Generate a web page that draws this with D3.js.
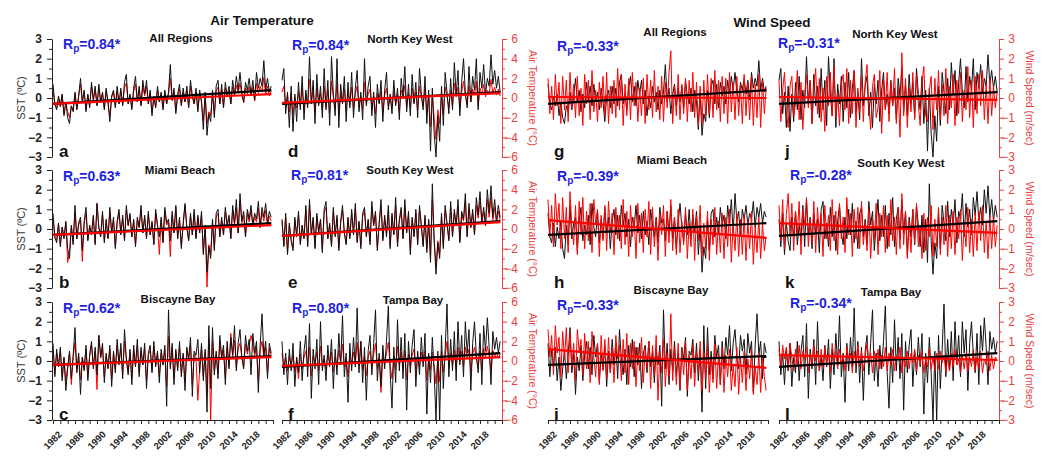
<!DOCTYPE html>
<html>
<head>
<meta charset="utf-8">
<script src="https://cdn.jsdelivr.net/npm/d3@7"></script>
<style>
body { margin: 0; background: #fff; }
svg { display: block; }
</style>
</head>
<body>
<svg id="chart" width="1045" height="458"></svg>
<script>
// monthly anomalies read off the figure, sampled 3 per year from 1982 to 2021
// SST anomalies (°C), shared by the air temperature and wind speed panels
const sstAll = [
 0.7,-0.3,-0.6, 0.1,-0.4,0.2, -0.9,-0.2,-1.0, -1.3,-0.4,-0.7,
 0.3,-0.6,0.1, 1.0,-0.2,0.4, -0.7,0.2,-0.5, 0.8,-0.1,0.6,
 -0.4,0.7,-0.2, 0.3,-0.6,0.5, -0.2,-1.2,0.1, 0.4,-0.5,0.6,
 -0.3,0.5,-0.4, 0.8,1.2,-0.3, 0.2,-0.6,0.5, 1.1,-0.2,0.6,
 -0.4,0.9,0.2, 0.9,-0.3,0.4, -0.9,0.1,-0.5, 0.6,-0.2,0.3,
 -0.6,0.4,-0.3, 0.3,1.7,-0.1, 0.5,-0.8,0.2, 0.7,-0.4,0.5,
 -0.2,0.6,-0.5, 0.9,0.1,-0.3, 0.5,-0.7,0.4, -0.2,-1.6,0.3,
 -1.9,-0.8,-1.2, 0.4,-1.0,0.6, 0.9,-0.3,0.7, -0.5,0.8,0.1,
 0.6,-0.3,0.9, 0.2,1.1,0.4, 1.3,0.3,-0.2, 0.8,0.4,1.0,
 0.2,0.9,-0.1, 1.3,0.5,1.0, 0.6,1.9,0.4, 1.0,0.3,0.6
];
const sstMiami = [
 0.8,-0.4,-0.7, 0.3,-0.9,0.1, -0.5,0.4,-1.0, -1.5,0.2,-0.8,
 1.2,-0.5,0.3, 0.6,-1.1,0.4, 1.1,-0.6,0.2, -0.3,0.7,-0.8,
 1.3,0.1,-0.4, 0.9,-0.7,0.5, -0.5,1.1,-0.2, 0.6,-1.0,0.4,
 1.0,-0.3,0.7, -0.6,1.2,0.2, 0.8,-0.4,0.5, -0.9,0.6,0.1,
 1.2,-0.2,0.7, -0.5,0.9,-0.3, 0.4,-0.8,1.0, 0.2,-0.4,0.6,
 -0.7,1.1,0.3, 0.5,-0.6,0.9, -0.2,1.2,-0.5, 0.6,-1.0,0.3,
 1.3,0.1,-0.6, 0.8,-0.3,1.0, -0.5,0.7,-0.2, 0.9,-1.3,0.2,
 -2.2,-0.9,-1.5, 0.5,-1.1,0.8, 1.0,-0.4,0.6, -0.3,1.1,0.2,
 0.7,-0.5,1.2, 0.3,1.5,-0.2, 1.8,0.4,0.9, -0.4,1.0,0.5,
 1.2,0.2,0.8, 0.5,1.4,0.1, 1.1,0.6,1.3, 0.3,0.9,0.6
];
const sstBiscayne = [
 0.9,-0.8,0.6, -0.3,0.7,-1.0, 0.2,-1.5,-0.4, 0.5,-0.9,0.3,
 1.7,-0.6,0.4, -1.7,0.2,-0.5, 0.8,-1.0,0.3, 1.0,-0.4,0.7,
 -0.7,1.3,0.2, 0.9,-1.1,0.4, -0.4,0.8,-1.3, 0.5,-0.6,1.1,
 -0.2,0.9,-0.9, 1.6,0.1,-0.7, 0.6,-1.2,0.8, -0.3,1.1,-0.8,
 0.7,-0.2,0.9, -1.4,0.4,0.8, -0.6,1.0,-0.3, 0.5,-1.1,0.6,
 -0.2,0.8,-2.3, 2.6,-0.4,0.9, -1.2,0.6,-0.5, 1.0,-0.8,0.4,
 -1.5,0.7,0.1, 1.2,-1.8,0.5, 0.3,1.1,-0.6, 0.9,-1.0,0.6,
 -2.6,1.8,-1.4, 1.7,-0.7,0.5, -0.9,1.3,0.2, 0.8,-1.2,1.0,
 -0.4,1.2,0.3, 1.8,-0.5,0.9, 1.6,0.2,-0.4, 1.3,0.5,1.1,
 -0.7,1.4,0.4, 1.0,-1.6,0.8, 2.4,0.3,1.0, -0.9,0.9,0.4
];
const sstNorthKW = [
 0.9,1.5,-0.8, 0.3,-1.5,0.6, -1.7,0.2,-1.2, 0.8,-0.6,1.1,
 -1.1,0.4,-0.5, 2.1,-0.3,0.9, -1.3,1.2,-0.4, 0.6,-1.0,1.5,
 -0.6,0.9,-1.4, 2.1,0.2,-0.9, 2.0,-1.5,0.7, -0.3,1.1,-1.2,
 0.8,-0.5,1.3, -1.0,0.5,1.4, -0.7,0.3,-1.1, 2.0,-0.4,0.6,
 1.1,-0.9,0.3, -1.5,0.7,-0.3, 0.9,-1.2,0.4, 1.3,-0.6,0.2,
 -0.8,0.9,-0.4, 0.5,-1.1,1.0, 0.1,1.6,-0.7, 0.7,-0.9,1.2,
 -0.3,0.8,-1.0, 1.5,0.2,-0.6, 1.1,-1.3,0.4, -2.7,0.5,-1.8,
 -3.0,-0.9,-2.2, 0.6,-1.4,1.3, 0.3,-0.8,1.0, -0.6,1.8,0.2,
 1.4,-0.9,0.8, 2.0,0.3,-0.5, 1.6,-0.2,1.1, 0.4,2.0,-0.6,
 1.3,0.5,1.7, 0.2,1.0,0.6, 2.2,0.7,1.4, 0.5,1.1,0.3
];
const sstSouthKW = [
 0.5,-0.9,0.8, -1.3,0.3,-0.6, -1.1,0.6,-0.4, 0.9,-0.8,0.2,
 -0.5,1.2,-0.9, 1.5,-0.3,0.6, -1.0,0.8,-0.2, 0.5,-1.2,1.0,
 1.4,-0.5,0.3, -0.9,1.1,-0.4, 0.7,-1.1,0.4, 1.2,-0.2,-0.8,
 0.6,-0.5,1.0, -0.3,1.3,-0.7, 0.4,-1.0,0.8, 1.1,-0.4,0.5,
 -0.8,1.4,0.2, 0.9,-1.1,0.3, 1.5,-0.6,0.7, -0.4,1.2,-1.0,
 0.8,-0.3,1.6, -0.9,0.5,1.1, -0.5,1.5,-0.2, 0.9,-1.3,0.6,
 -0.4,1.0,-0.8, 1.2,0.2,-0.9, 0.7,-1.2,0.5, -1.7,2.3,-0.6,
 -2.3,-0.7,-1.5, 0.8,-1.0,1.2, 0.3,-0.6,1.4, -0.4,1.0,0.2,
 1.5,-0.7,0.9, 0.5,1.8,-0.4, 1.3,0.1,1.0, -0.3,1.6,0.7,
 1.9,0.4,1.1, 0.2,2.0,0.8, 2.2,0.6,1.5, 0.4,1.2,0.6
];
const sstTampa = [
 1.0,-0.7,0.4, -1.2,0.6,-0.5, 0.9,-1.3,0.2, -0.6,1.0,-1.0,
 0.5,1.3,-0.8, 1.9,-1.9,0.6, -0.4,1.1,-1.2, 2.0,-0.5,0.3,
 -1.0,0.8,-0.3, 1.1,-1.4,0.6, -0.7,1.4,-0.2, 2.3,-0.8,0.4,
 -2.1,0.9,-0.5, 1.2,-0.3,2.7, -0.6,1.0,-1.1, 0.7,-2.0,0.5,
 1.3,-0.7,0.9, 2.6,-1.0,0.4, -1.3,0.8,-0.4, 1.0,2.8,-0.6,
 -2.4,0.7,-1.1, 2.1,-0.5,1.2, -0.9,1.4,-2.5, 1.0,-0.6,0.8,
 1.6,-1.3,0.5, -0.7,1.2,-0.3, 1.4,-2.7,0.4, -1.1,1.2,-0.6,
 -3.0,0.5,-3.0, 1.3,-1.4,0.6, 2.9,-0.8,1.1, -0.5,1.5,-1.0,
 2.0,-0.2,1.3, -0.8,2.0,0.4, 1.6,-1.5,0.9, 2.0,0.3,-0.6,
 1.4,-1.2,1.8, 0.5,2.2,0.7, -1.2,1.5,0.6, 1.2,0.4,1.0
];

// air temperature anomalies (°C)
const airAll = [
 0.8,-0.7,-1.0, 0.0,-0.9,0.3, -1.6,-0.5,-1.4, -2.0,-0.8,-1.2,
 0.4,-1.1,0.2, 1.4,-0.4,0.6, -1.2,0.3,-0.8, 1.2,-0.3,0.8,
 -0.7,1.0,-0.5, 0.5,-1.0,0.7, -0.5,-1.9,0.1, 0.6,-0.9,0.8,
 -0.6,0.7,-0.7, 1.1,1.5,-0.6, 0.2,-1.0,0.7, 1.4,-0.4,0.8,
 -0.7,1.2,0.2, 1.2,-0.6,0.5, -1.5,0.1,-0.9, 0.8,-0.4,0.4,
 -1.0,0.5,-0.6, 0.4,2.0,-0.3, 0.6,-1.3,0.2, 0.9,-0.7,0.6,
 -0.4,0.8,-0.9, 1.2,0.1,-0.6, 0.6,-1.2,0.5, -0.4,-2.3,0.3,
 -2.6,-1.4,-1.8, 0.5,-1.6,0.7, 1.1,-0.6,0.9, -0.9,1.0,0.1,
 0.7,-0.6,1.1, 0.2,1.3,0.5, 1.5,0.3,-0.5, 1.0,0.4,1.2,
 0.2,1.1,-0.3, 1.5,0.5,1.2, 0.6,2.1,0.3, 1.2,0.2,0.7
];
const airMiami = [
 1.0,-0.9,-1.2, 0.5,-1.6,0.2, -0.8,0.6,-3.4, -2.4,0.3,-1.4,
 1.8,-1.0,0.4, 0.9,-3.3,0.5, 1.6,-1.1,0.2, -0.6,1.2,-1.4,
 2.6,0.1,-0.8, 1.5,-1.2,0.8, -0.9,1.8,-0.4, 0.9,-1.8,0.6,
 1.6,-0.5,1.1, -1.1,1.9,0.3, 1.3,-0.8,0.8, -1.6,0.9,0.1,
 2.0,-0.4,1.1, -0.9,1.5,-0.6, 0.6,-1.5,1.6, 0.3,-2.6,0.9,
 -1.3,1.8,0.4, 0.7,-2.8,1.4, -0.4,2.2,-0.9, 0.9,-1.7,0.4,
 2.4,0.1,-1.1, 1.3,-0.6,1.6, -0.9,1.1,-0.4, 1.4,-2.3,0.3,
 -5.9,-1.6,-2.6, 0.7,-1.9,1.2, 1.6,-0.7,0.9, -0.6,1.8,0.3,
 1.1,-0.9,1.9, 0.4,2.2,-0.4, 2.8,0.6,1.4, -0.7,1.6,0.7,
 1.9,0.3,1.2, 0.7,2.1,0.1, 1.7,0.8,1.9, 0.4,1.3,0.8
];
const airBiscayne = [
 1.2,-1.3,0.8, -0.5,1.0,-1.6, 0.3,-2.0,-0.6, 0.8,-2.4,0.4,
 1.9,-0.9,0.5, -1.9,0.4,-0.8, 1.2,-1.6,0.5, 1.6,-0.5,1.0,
 -2.9,2.6,0.3, 1.4,-1.6,0.5, -0.7,1.2,-1.9, 0.8,-0.9,1.6,
 -0.3,1.3,-1.4, 2.0,0.2,-1.1, 0.9,-1.7,1.1, -0.5,1.6,-1.2,
 1.0,-0.4,1.3, -2.0,0.6,1.1, -0.9,1.5,-0.4, 0.7,-1.6,0.8,
 -0.4,1.2,-2.6, 2.5,-0.6,1.4, -1.8,0.9,-0.7, 1.4,-1.2,0.6,
 -2.0,1.1,0.1, 1.6,-2.4,0.7, 0.4,-4.0,-0.9, 1.3,-1.5,0.9,
 -3.1,2.2,-6.0, 2.0,-1.0,0.7, -1.3,1.8,0.3, 1.1,-1.7,1.4,
 -0.5,2.8,0.4, 2.1,-0.7,1.3, 1.8,0.3,-0.6, 1.7,0.7,1.5,
 2.6,1.8,0.5, 1.4,-2.0,1.1, 2.0,0.4,1.4, -1.2,1.3,0.6
];
const airNorthKW = [
 0.6,1.2,-0.9, 0.2,-1.4,0.5, -1.8,0.1,-1.0, 0.7,-0.8,1.0,
 -1.2,0.3,-0.7, 1.9,-0.5,0.8, -1.4,1.0,-0.6, 0.5,-1.2,1.2,
 -0.9,0.8,-1.5, 1.7,0.1,-1.1, 1.6,-1.6,0.5, -0.5,0.9,-1.3,
 0.6,-0.7,1.1, -1.1,0.4,1.2, -0.9,0.2,-1.2, 1.6,-0.6,0.4,
 0.9,-1.0,0.2, -1.6,0.5,-0.5, 0.7,-1.4,0.3, 1.0,-0.8,0.1,
 -1.0,0.7,-0.6, 0.4,-1.3,0.8, 0.0,1.3,-0.9, 0.5,-1.1,1.0,
 -0.5,0.6,-1.2, 1.2,0.1,-0.8, 0.9,-1.5,0.3, -2.9,0.3,-2.0,
 -4.2,-1.2,-2.6, 0.4,-1.7,1.1, 0.2,-1.0,0.8, -0.8,1.5,0.1,
 1.1,-1.1,0.6, 1.7,0.2,-0.7, 1.3,-0.4,0.9, 0.3,1.7,-0.8,
 1.0,0.3,1.4, 0.1,0.8,0.4, 1.9,0.5,1.1, 0.3,0.9,0.2
];
const airSouthKW = [
 0.8,-1.6,1.2, -2.4,0.4,-1.0, -1.9,0.9,-0.6, 1.5,-1.4,0.3,
 -0.9,2.0,-1.6, 2.4,-0.5,1.0, -1.8,1.3,-0.3, 0.9,-2.1,1.7,
 2.2,-0.9,0.4, -1.6,1.8,-0.6, 1.1,-1.9,0.6, 1.9,-0.4,-1.4,
 1.0,-0.8,1.6, -0.5,2.1,-1.2, 0.6,-1.7,1.3, 1.8,-0.7,0.8,
 -1.3,2.2,0.3, 1.5,-1.9,0.5, 2.3,-1.0,1.1, -0.6,1.9,-1.7,
 1.3,-0.5,2.4, -1.5,0.8,1.7, -0.9,2.3,-0.3, 1.4,-2.2,1.0,
 -0.7,1.6,-1.4, 1.9,0.3,-1.6, 1.1,-2.0,0.8, -2.8,3.0,-1.0,
 -3.8,-1.2,-2.5, 1.3,-1.7,1.9, 0.5,-1.0,2.2, -0.7,1.6,0.3,
 2.3,-1.2,1.4, 0.8,2.7,-0.7, 2.0,0.1,1.6, -0.5,2.4,1.1,
 2.8,0.6,1.7, 0.3,3.0,1.2, 3.2,0.9,2.2, 0.6,1.8,0.9
];
const airTampa = [
 0.8,-0.6,0.3, -1.0,0.5,-0.4, 0.6,-1.1,0.1, -1.8,0.7,-0.8,
 0.4,1.0,-0.6, 1.4,-1.5,0.5, -0.3,0.9,-1.0, 1.5,-0.4,0.2,
 -0.8,0.6,-0.2, 0.9,-1.1,0.4, -0.6,1.1,-0.1, 1.7,-0.6,0.3,
 -1.6,0.7,-0.4, 0.9,-0.2,1.9, -0.5,2.0,-0.9, 0.5,-1.5,0.4,
 1.0,-0.5,0.7, 1.8,-0.8,0.3, -3.2,0.6,-0.3, 0.8,1.9,-0.5,
 -1.8,0.5,-0.9, 1.5,-0.4,0.9, -0.7,1.0,-1.9, 0.7,-0.5,0.6,
 1.2,-1.0,0.4, -0.6,0.9,-0.2, 1.0,-2.0,0.3, -0.9,0.9,-0.5,
 -2.3,0.4,-2.1, 1.0,-1.1,0.5, 2.0,-0.6,0.8, -0.4,1.1,-0.8,
 1.4,-0.1,1.0, -0.6,1.4,0.3, 1.2,-1.1,0.7, 1.4,0.2,-0.5,
 1.0,-0.9,1.3, 0.4,1.5,0.5, -0.9,1.1,0.4, 0.9,0.3,0.7
];

// wind speed anomalies (m/sec)
const windAll = [
 1.0,-0.8,0.6, -1.1,1.2,-0.4, 0.8,-1.3,1.1, -0.6,0.9,-1.2,
 1.3,-0.5,0.7, -1.0,1.1,-0.9, 0.5,-1.4,1.2, -0.3,0.9,-1.1,
 1.4,-0.7,0.4, -1.2,0.8,-0.5, 1.1,-0.9,1.3, -1.3,0.6,-0.8,
 0.9,-1.0,1.5, -0.6,1.2,-1.4, 0.7,-0.9,1.0, -1.1,1.3,-0.4,
 0.8,-1.2,0.5, -0.9,1.0,-1.3, 1.2,-0.6,0.9, -1.0,1.4,-0.7,
 0.6,-1.1,1.1, -1.2,0.8,-0.5, 1.3,2.4,-1.3, 0.6,-0.9,1.2,
 -1.1,0.7,-0.8, 1.0,-1.2,0.9, -0.7,1.3,-1.0, 0.8,-1.4,0.6,
 -1.3,0.9,-0.9, 1.2,-0.8,1.0, -1.0,1.4,-0.6, 0.9,-1.2,1.1,
 -0.8,1.0,-1.3, 1.3,-0.7,0.8, -1.1,1.1,-0.9, 0.7,-1.3,1.2,
 -0.9,0.8,-1.1, 1.1,-1.4,0.7, -1.0,1.2,-1.5, 0.9,-0.8,0.5
];
const windMiami = [
 1.5,-0.4,1.2, -0.9,1.8,0.2, 1.3,-1.0,1.6, -0.5,1.1,-1.2,
 1.9,0.1,-0.8, 1.2,-1.3,1.4, -0.3,1.6,-1.0, 0.9,-0.6,1.3,
 -1.2,1.5,0.3, 1.0,-1.4,0.7, -0.6,1.2,-1.1, 1.4,-0.2,0.8,
 -1.3,1.1,-0.5, 0.7,-1.0,1.5, -0.8,0.9,-1.4, 1.2,-0.4,0.6,
 -1.5,1.3,-0.7, 0.8,-1.2,1.0, -0.4,1.4,-1.3, 1.1,-0.9,0.5,
 -1.6,0.8,-0.3, 1.2,-1.4,0.9, -0.7,1.5,-1.1, 0.6,-1.3,1.0,
 -1.2,0.4,-0.8, 1.1,-1.5,0.3, -0.9,1.0,-1.6, 0.7,-0.6,1.2,
 -1.4,0.3,-1.0, 0.9,-1.6,0.5, -0.8,1.1,-1.3, 0.4,-1.2,0.8,
 -1.5,0.6,-0.9, 1.0,-1.7,0.2, -1.1,0.8,-1.4, 0.5,-1.3,0.7,
 -1.6,0.4,-1.0, 0.9,-1.8,0.1, -1.2,0.6,-1.5, 0.3,-1.1,-0.4
];
const windBiscayne = [
 1.6,0.2,1.3, -0.7,1.8,0.4, 1.2,-0.8,1.5, 0.1,1.7,-0.6,
 1.4,-0.3,0.9, -1.0,1.6,0.5, 1.1,-0.7,1.4, -0.4,1.0,-1.1,
 1.5,0.2,-0.8, 0.9,-1.2,1.3, -0.5,1.1,-0.9, 1.2,-0.6,0.7,
 -1.1,1.3,0.1, 0.8,-1.0,1.1, -0.6,1.4,-1.2, 0.9,-0.4,1.0,
 -1.3,0.7,-0.5, 1.2,-1.1,0.6, -0.3,1.0,-1.4, 0.8,-0.7,1.3,
 -2.0,0.5,-0.6, 1.1,-1.3,0.4, -0.8,2.4,-1.0, 0.7,-1.2,0.9,
 -1.4,0.6,-0.7, 1.0,-1.5,0.3, -0.9,0.8,-1.3, 0.5,-0.6,1.0,
 -1.5,0.4,-0.9, 0.8,-1.6,0.2, -1.1,0.9,-1.4, 0.4,-1.2,0.7,
 -1.6,0.3,-0.8, 0.6,-1.5,-0.2, -1.3,0.7,-1.7, 0.2,-1.1,0.5,
 -1.5,0.1,-0.9, 0.6,-1.7,-0.3, -1.2,0.4,-1.6, 0.2,-0.8,-1.5
];
const windNorthKW = [
 0.9,-1.2,0.4, 1.3,-0.7,-1.5, 0.6,1.1,-0.9, -0.3,1.4,-1.1,
 0.8,-1.6,0.2, 1.2,-0.5,0.9, -1.3,0.4,1.5, -0.8,1.0,-1.2,
 0.5,-1.7,1.1, -0.4,1.3,-0.9, 1.6,-1.0,0.3, -1.4,0.7,1.2,
 -0.6,1.5,-1.3, 0.9,-0.8,1.4, -1.5,0.5,-0.7, 1.1,-1.2,0.8,
 1.7,-0.4,-1.6, 0.6,1.2,-1.0, -0.5,1.4,-1.8, 0.9,-0.6,1.3,
 -1.2,0.8,-0.4, 1.5,-1.3,0.6, -2.0,2.3,-0.9, 1.0,-1.5,0.5,
 -0.7,1.3,-1.1, 1.2,-0.3,-1.4, 0.8,1.6,-0.9, -1.2,0.4,1.1,
 -1.6,1.0,-0.6, 1.4,-1.1,0.7, -0.9,1.5,-1.3, 0.6,-0.5,1.2,
 -1.4,0.9,-0.8, 1.3,-1.2,0.4, -0.6,1.6,-1.0, 0.9,-1.5,1.1,
 -0.8,1.2,-0.4, 1.4,-1.1,0.7, -1.3,1.0,-0.9, 0.6,-0.5,0.3
];
const windSouthKW = [
 1.2,-0.6,1.5, -1.0,0.7,1.8, -0.4,1.3,-1.1, 0.9,-0.3,1.4,
 -1.3,1.0,0.2, 1.6,-0.9,0.5, -0.7,1.4,-1.2, 1.1,-0.2,0.8,
 -1.4,1.2,-0.5, 0.7,-1.1,1.5, -0.6,0.9,-1.3, 1.3,-0.5,0.6,
 -1.2,1.6,-0.3, 0.8,-1.4,1.0, -0.5,1.1,-1.0, 1.4,-0.8,0.3,
 -1.1,1.0,-1.5, 0.5,-0.6,1.3, -1.3,0.8,-0.4, 1.2,-1.2,0.7,
 -0.9,1.5,-0.6, 0.6,-1.3,1.1, -1.0,1.8,-0.8, 0.9,-1.5,0.4,
 -1.2,1.0,-0.7, 1.3,-0.9,0.2, -1.5,0.8,-1.1, 0.6,-0.4,1.2,
 -1.4,0.5,-0.9, 1.1,-1.3,0.6, -0.8,1.2,-1.4, 0.7,-1.0,0.9,
 -1.3,0.6,-0.5, 1.0,-1.6,0.3, -0.9,1.1,-1.2, 0.5,-1.4,0.8,
 -1.1,0.9,-0.6, 1.2,-1.2,0.4, -1.5,0.7,-1.0, 0.6,-0.9,0.2
];
const windTampa = [
 0.6,-0.3,0.8, 0.1,0.7,-0.4, 0.9,0.2,-0.5, 0.6,-0.2,0.8,
 -0.4,0.5,0.1, 0.7,-0.6,0.4, -0.2,0.8,0.0, 0.5,-0.5,0.6,
 -0.3,0.7,-0.1, 0.4,-0.6,0.9, 0.0,0.5,-0.4, 0.6,-0.2,0.3,
 -0.5,0.7,0.1, 0.4,-0.6,0.5, -0.2,0.8,-0.3, 0.5,-0.5,0.2,
 0.9,-0.1,0.4, -0.6,0.5,-0.2, 0.6,-0.4,0.3, -0.3,0.7,-0.5,
 0.4,-0.2,0.6, -0.5,0.3,0.1, 0.7,-0.6,0.2, -0.3,0.5,-0.4,
 0.4,-0.1,0.6, -0.5,0.3,-0.2, 0.5,-0.6,0.1, -0.3,0.6,-0.4,
 0.2,-0.5,0.4, -0.4,0.5,-0.1, 0.3,-0.6,0.2, -0.5,0.4,-0.3,
 0.6,-0.2,0.1, -0.6,0.3,-0.4, 0.4,-0.5,0.2, -0.3,0.6,-0.5,
 0.2,-0.4,0.5, -0.6,0.1,-0.2, 0.5,-0.5,0.3, -0.4,0.2,0.0
];

// linear trend end points [1982, 2021]
const trendSstAll = [-0.3, 0.4], trendSstMiami = [-0.3, 0.3], trendSstBiscayne = [-0.2, 0.25];
const trendSstNorthKW = [-0.3, 0.3], trendSstSouthKW = [-0.35, 0.4], trendSstTampa = [-0.3, 0.4];
const trendAirAll = [-0.6, 0.4], trendAirMiami = [-0.6, 0.4], trendAirBiscayne = [-0.4, 0.4];
const trendAirNorthKW = [-0.5, 0.5], trendAirSouthKW = [-0.7, 0.7], trendAirTampa = [-0.5, 0.4];
const trendWindAll = [0.05, 0.0], trendWindMiami = [0.45, -0.45], trendWindBiscayne = [0.6, -0.35];
const trendWindNorthKW = [0.05, -0.1], trendWindSouthKW = [0.3, -0.2], trendWindTampa = [0.3, 0.05];

const rpValues = ['0.84*', '0.63*', '0.62*', '0.84*', '0.81*', '0.80*',
                  '-0.33*', '-0.39*', '-0.33*', '-0.31*', '-0.28*', '-0.34*'];
const xTickYears = d3.range(31).map(k => 1982 + k * 4 / 3);

const FONT = '"Liberation Sans", Arial, sans-serif';
const RED = '#ff0000', AXRED = '#e8413f', BLUE = '#1f1fe0';
const W = 220, H = 118;
const colX = [53, 282, 548, 779];
const rowY = [39, 170, 302];

const panels = [
  {letter: 'a', col: 0, row: 0, name: 'All Regions', sst: sstAll, sT: trendSstAll, red: airAll, rT: trendAirAll},
  {letter: 'b', col: 0, row: 1, name: 'Miami Beach', sst: sstMiami, sT: trendSstMiami, red: airMiami, rT: trendAirMiami},
  {letter: 'c', col: 0, row: 2, name: 'Biscayne Bay', sst: sstBiscayne, sT: trendSstBiscayne, red: airBiscayne, rT: trendAirBiscayne},
  {letter: 'd', col: 1, row: 0, name: 'North Key West', sst: sstNorthKW, sT: trendSstNorthKW, red: airNorthKW, rT: trendAirNorthKW},
  {letter: 'e', col: 1, row: 1, name: 'South Key West', sst: sstSouthKW, sT: trendSstSouthKW, red: airSouthKW, rT: trendAirSouthKW},
  {letter: 'f', col: 1, row: 2, name: 'Tampa Bay', sst: sstTampa, sT: trendSstTampa, red: airTampa, rT: trendAirTampa},
  {letter: 'g', col: 2, row: 0, name: 'All Regions', sst: sstAll, sT: trendSstAll, red: windAll, rT: trendWindAll},
  {letter: 'h', col: 2, row: 1, name: 'Miami Beach', sst: sstMiami, sT: trendSstMiami, red: windMiami, rT: trendWindMiami},
  {letter: 'i', col: 2, row: 2, name: 'Biscayne Bay', sst: sstBiscayne, sT: trendSstBiscayne, red: windBiscayne, rT: trendWindBiscayne},
  {letter: 'j', col: 3, row: 0, name: 'North Key West', sst: sstNorthKW, sT: trendSstNorthKW, red: windNorthKW, rT: trendWindNorthKW},
  {letter: 'k', col: 3, row: 1, name: 'South Key West', sst: sstSouthKW, sT: trendSstSouthKW, red: windSouthKW, rT: trendWindSouthKW},
  {letter: 'l', col: 3, row: 2, name: 'Tampa Bay', sst: sstTampa, sT: trendSstTampa, red: windTampa, rT: trendWindTampa}
];
// label nudges per panel [name dx, name dy, rp dx, rp dy]
const nudges = {
  a: [128, 3, 10, 10], b: [127, 4, 10, 11], c: [125, 1, 10, 11],
  d: [128, 4, 10, 11], e: [128, 4, 9, 10], f: [131, 2, 10, 11],
  g: [127, -3, 9, 12], h: [124, -6, 9, 11], i: [123, -8, 9, 8],
  j: [116, -1, -1, 9], k: [122, -3, 11, 10], l: [112, -6, 11, 6]
};

const svg = d3.select('#chart');
const intFmt = d3.format('d');

function styleAxis(g, color, size, weight) {
  g.selectAll('path, line').attr('stroke', color);
  g.selectAll('text').attr('fill', color).style('font-family', FONT)
    .style('font-size', size + 'px').style('font-weight', weight);
}

panels.forEach((p, idx) => {
  const x0 = colX[p.col], y0 = rowY[p.row];
  const isAir = p.col < 2;
  const x = d3.scaleLinear().domain([1982, 2022]).range([x0, x0 + W]);
  const ySst = d3.scaleLinear().domain([-3, 3]).range([y0 + H, y0]);
  const yRed = isAir ? d3.scaleLinear().domain([-6, 6]).range([y0 + H, y0])
                     : d3.scaleLinear().domain([-3, 3]).range([y0 + H, y0]);

  const g = svg.append('g').attr('class', 'panel panel-' + p.letter);

  const lineSst = d3.line().x((d, i) => x(1982 + i / 3)).y(d => ySst(d));
  const lineRed = d3.line().x((d, i) => x(1982 + i / 3)).y(d => yRed(d));

  const drawRed = () => g.append('path').datum(p.red).attr('d', lineRed)
    .attr('fill', 'none').attr('stroke', RED).attr('stroke-width', 1);
  const drawSst = () => g.append('path').datum(p.sst).attr('d', lineSst)
    .attr('fill', 'none').attr('stroke', '#111').attr('stroke-width', 1);
  if (isAir) { drawRed(); drawSst(); } else { drawSst(); drawRed(); }

  // trend lines
  g.append('line')
    .attr('x1', x(1982)).attr('x2', x(2021.7))
    .attr('y1', ySst(p.sT[0])).attr('y2', ySst(p.sT[1]))
    .attr('stroke', '#000').attr('stroke-width', 2.2);
  g.append('line')
    .attr('x1', x(1982)).attr('x2', x(2021.7))
    .attr('y1', yRed(p.rT[0])).attr('y2', yRed(p.rT[1]))
    .attr('stroke', RED).attr('stroke-width', 2.2);

  // left SST axis only on the first column
  if (p.col === 0) {
    const ax = g.append('g').attr('transform', `translate(${x0 - 1},0)`)
      .call(d3.axisLeft(ySst).tickValues(d3.range(-3, 4)).tickFormat(intFmt)
        .tickSize(5).tickSizeOuter(0).tickPadding(5));
    styleAxis(ax, '#222', 12, 'bold');
    const mn = g.append('g').attr('transform', `translate(${x0 - 1},0)`)
      .call(d3.axisLeft(ySst).tickValues(d3.range(-2.5, 3, 1)).tickSize(3).tickFormat(''));
    mn.select('.domain').remove();
    styleAxis(mn, '#222', 12, 'bold');
    g.append('text')
      .attr('transform', `translate(${x0 - 28},${y0 + H / 2}) rotate(-90)`)
      .attr('text-anchor', 'middle')
      .style('font-family', FONT).style('font-size', '11px').attr('fill', '#333')
      .text('SST (ºC)');
  }

  // right axes
  if (p.col === 1 || p.col === 3) {
    const major = isAir ? d3.range(-6, 7, 2) : d3.range(-3, 4);
    const minor = isAir ? d3.range(-5, 6, 2) : d3.range(-2.5, 3, 1);
    const ax = g.append('g').attr('transform', `translate(${x0 + W},0)`)
      .call(d3.axisRight(yRed).tickValues(major).tickFormat(intFmt).tickSize(5).tickSizeOuter(0));
    styleAxis(ax, AXRED, 12, 'normal');
    ax.selectAll('text').attr('text-anchor', 'end').attr('x', 16);
    const mn = g.append('g').attr('transform', `translate(${x0 + W},0)`)
      .call(d3.axisRight(yRed).tickValues(minor).tickSize(3).tickFormat(''));
    mn.select('.domain').remove();
    styleAxis(mn, AXRED, 12, 'normal');
    g.append('text')
      .attr('transform', `translate(${x0 + W + 27},${y0 + H / 2}) rotate(90)`)
      .attr('text-anchor', 'middle')
      .style('font-family', FONT).style('font-size', '10.5px').attr('fill', AXRED)
      .text(isAir ? 'Air Temperature (°C)' : 'Wind Speed (m/sec)');
  }

  // time axis on the bottom row
  if (p.row === 2) {
    const ax = g.append('g').attr('transform', `translate(0,${y0 + H})`)
      .call(d3.axisBottom(x).tickValues(xTickYears).tickSize(4).tickSizeOuter(0)
        .tickFormat((d, i) => (i % 3 === 0 && d < 2020) ? Math.round(d) : ''));
    styleAxis(ax, '#222', 9.5, 'bold');
    ax.selectAll('text')
      .attr('x', 0).attr('y', 0).attr('dy', 0)
      .attr('text-anchor', 'end')
      .attr('transform', 'translate(9,15) rotate(-45)');
  }

  const nd = nudges[p.letter];
  // panel letter
  g.append('text').attr('x', x0 + 6).attr('y', y0 + H)
    .style('font-family', FONT).style('font-size', '17px').style('font-weight', 'bold')
    .attr('fill', '#111').text(p.letter);
  // region name
  g.append('text').attr('x', x0 + nd[0]).attr('y', y0 + nd[1])
    .attr('text-anchor', 'middle')
    .style('font-family', FONT).style('font-size', '11.5px').style('font-weight', 'bold')
    .attr('fill', '#111').text(p.name);
  // correlation label
  const rp = g.append('text').attr('x', x0 + nd[2]).attr('y', y0 + nd[3])
    .style('font-family', FONT).style('font-size', '14px').style('font-weight', 'bold')
    .attr('fill', BLUE);
  rp.append('tspan').text('R');
  rp.append('tspan').attr('dy', 3).style('font-size', '10px').text('p');
  rp.append('tspan').attr('dy', -3).text('=' + rpValues[idx]);
});

// group titles
svg.append('text').attr('x', 262).attr('y', 25).attr('text-anchor', 'middle')
  .style('font-family', FONT).style('font-size', '13.5px').style('font-weight', 'bold')
  .attr('fill', '#111').text('Air Temperature');
svg.append('text').attr('x', 772).attr('y', 27).attr('text-anchor', 'middle')
  .style('font-family', FONT).style('font-size', '13.5px').style('font-weight', 'bold')
  .attr('fill', '#111').text('Wind Speed');
</script>
</body>
</html>
